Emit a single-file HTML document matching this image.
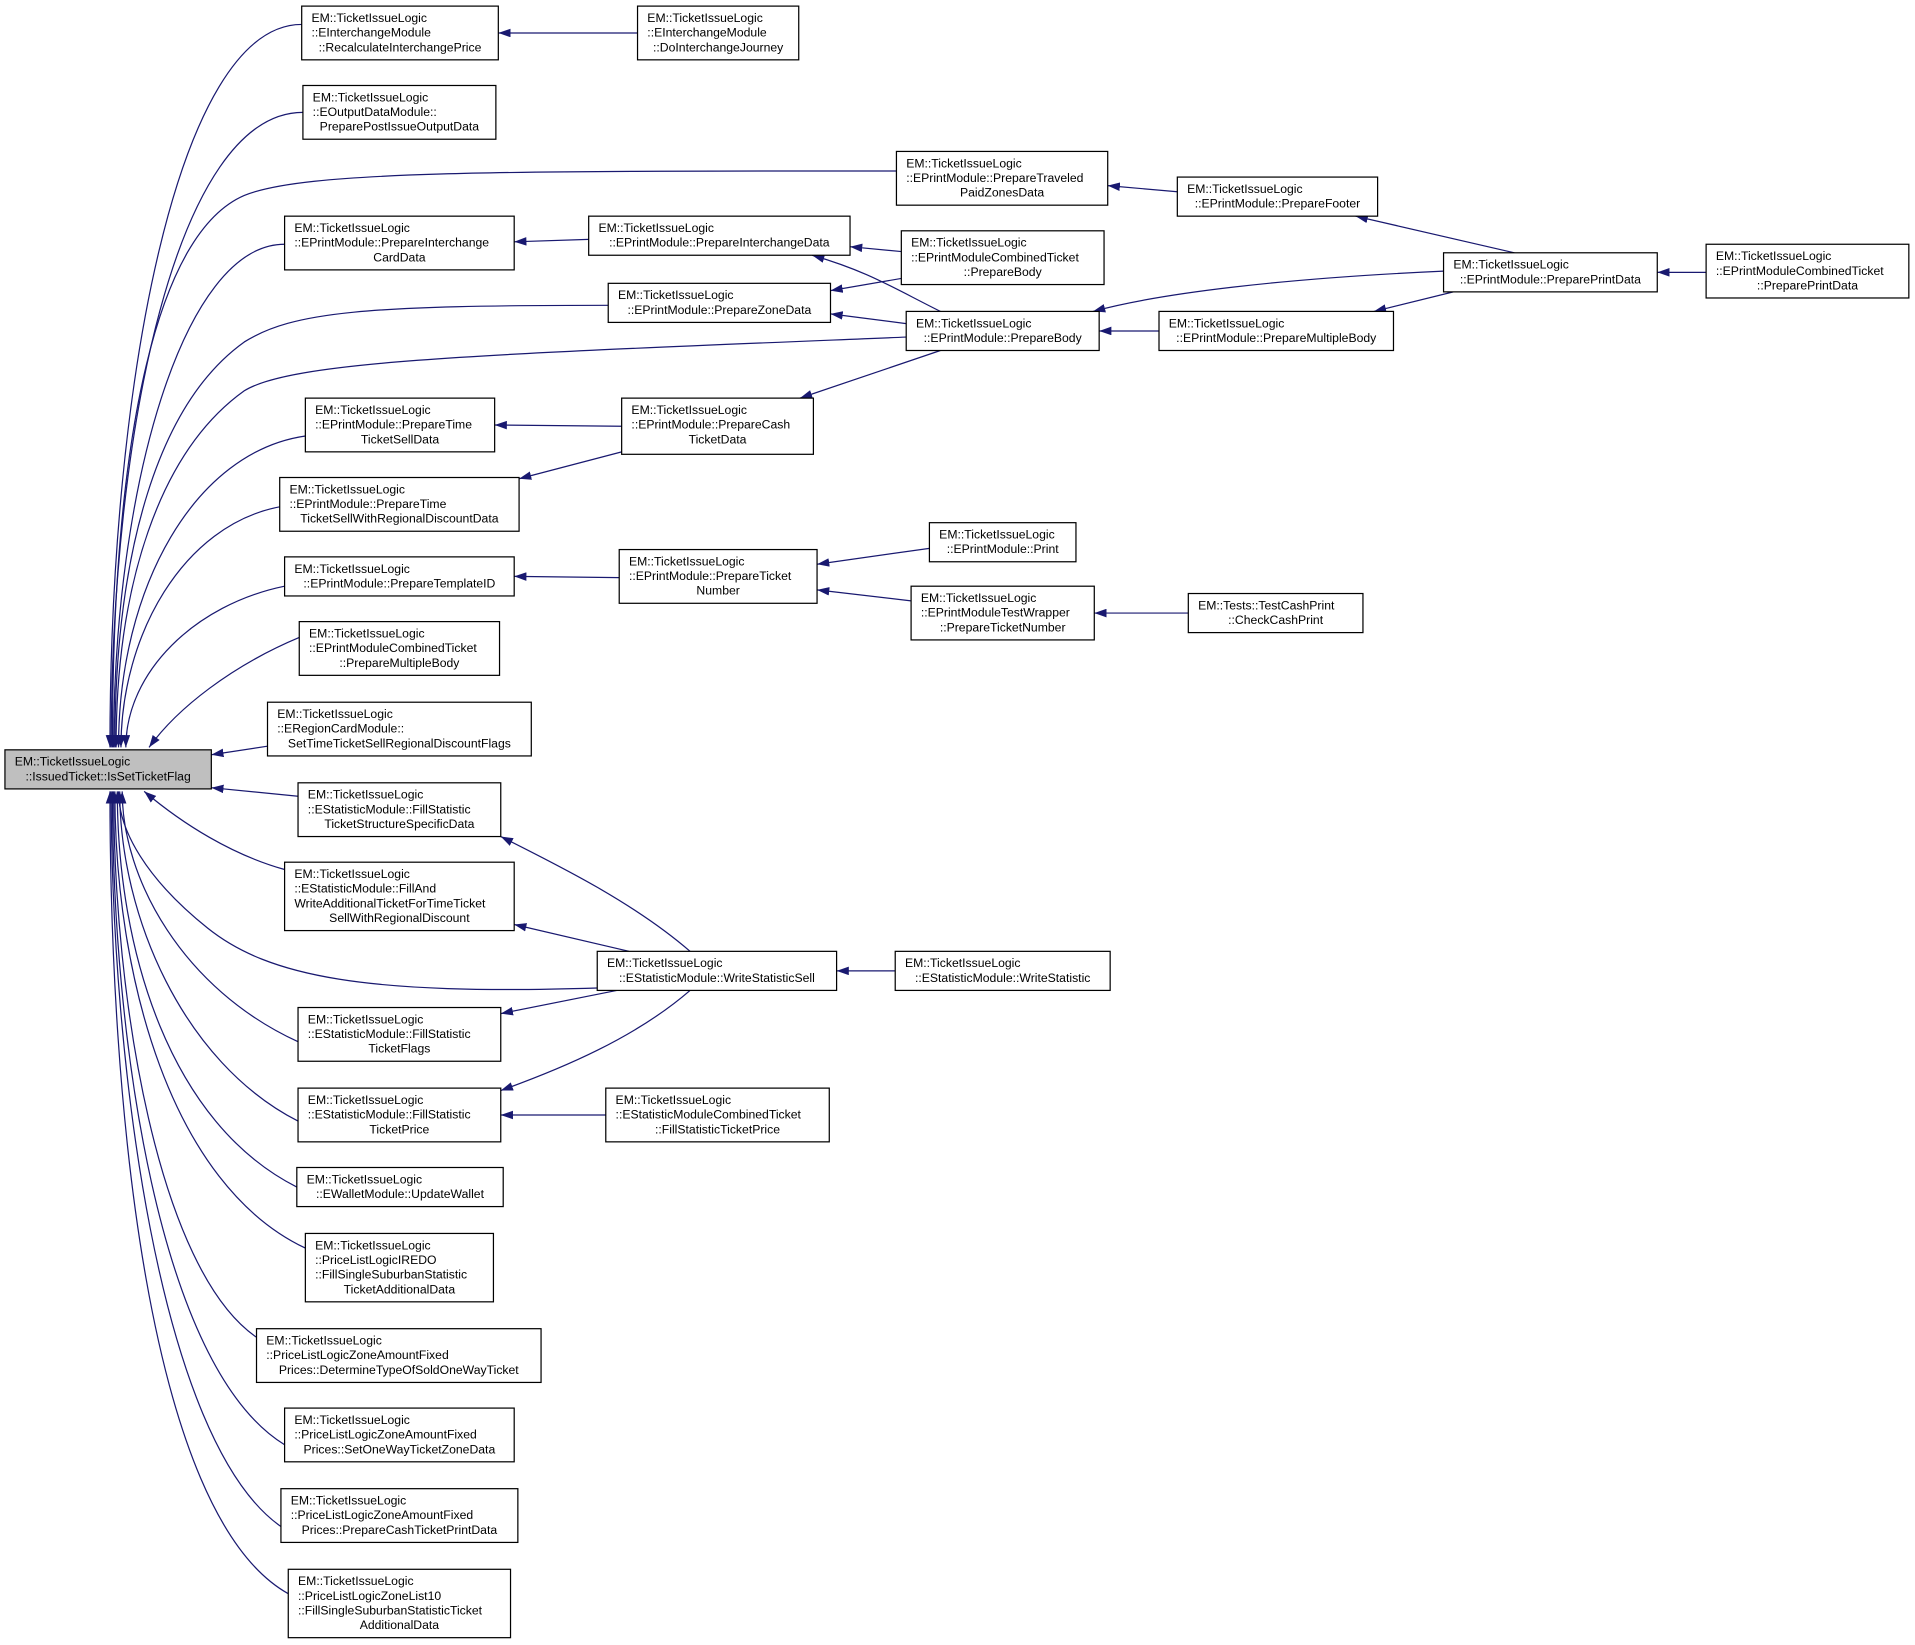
<!DOCTYPE html>
<html><head><meta charset="utf-8"><style>
html,body{margin:0;padding:0;background:#fff;}
svg{display:block;}
text{font-family:"Liberation Sans",sans-serif;font-size:10px;fill:#000;}
.b{fill:#fff;stroke:#000;stroke-width:1;}
.e{fill:none;stroke:#191970;stroke-width:1;marker-end:url(#ah);}
.c{text-anchor:middle;}
</style></head><body>
<svg width="1915" height="1645" viewBox="0 0 1568 1347" xmlns="http://www.w3.org/2000/svg">
<defs><marker id="ah" viewBox="0 0 10 7" refX="10" refY="3.5" markerUnits="userSpaceOnUse" markerWidth="10" markerHeight="7" orient="auto"><path d="M0,0 L10,3.5 L0,7 z" fill="#191970"/></marker></defs>

<!-- edges to main -->
<path class="e" d="M247,20 C145,20 90,316 90,612"/>
<path class="e" d="M248,92 C145,92 91,352 91,612"/>
<path class="e" d="M734,140 C400,140 250,140 200,160 C130,190 92,350 92,612"/>
<path class="e" d="M233,200 C150,200 93,400 93,612"/>
<path class="e" d="M498,250 C300,250 240,255 200,280 C130,330 94,450 94,612"/>
<path class="e" d="M742,276 C400,290 240,295 200,320 C130,370 95,480 95,612"/>
<path class="e" d="M250,357 C160,370 97,480 97,612"/>
<path class="e" d="M229,415 C150,430 99,520 99,612"/>
<path class="e" d="M233,480 C160,495 103,550 103,612"/>
<path class="e" d="M245,522 C190,545 145,580 122,612"/>
<path class="e" d="M219,611 L173,618"/>
<path class="e" d="M244,652 L173,645"/>
<path class="e" d="M233,712 C190,700 150,675 118,648"/>
<path class="e" d="M489,809 C300,815 220,800 170,760 C120,720 97,680 97,648"/>
<path class="e" d="M244,853 C150,810 100,720 100,648"/>
<path class="e" d="M244,918 C150,870 98,750 98,648"/>
<path class="e" d="M243,972 C140,920 96,780 96,648"/>
<path class="e" d="M250,1022 C140,970 94,800 94,648"/>
<path class="e" d="M210,1095 C130,1040 93,820 93,648"/>
<path class="e" d="M233,1183 C130,1120 92,850 92,648"/>
<path class="e" d="M230,1250 C130,1180 91,870 91,648"/>
<path class="e" d="M236,1305 C120,1240 90,900 90,648"/>

<!-- other edges -->
<path class="e" d="M522,27 L408,27"/>
<path class="e" d="M964,157 L907,152"/>
<path class="e" d="M1240,207 L1110,177"/>
<path class="e" d="M1182,222 C1050,228 950,240 895,255"/>
<path class="e" d="M1190,239 L1125,255"/>
<path class="e" d="M1397,223 L1357,223"/>
<path class="e" d="M949,271 L900,271"/>
<path class="e" d="M742,265 L680,257"/>
<path class="e" d="M770,255 C730,235 710,222 665,209"/>
<path class="e" d="M738,206 L696,202"/>
<path class="e" d="M738,228 L680,238"/>
<path class="e" d="M482,196 L421,198"/>
<path class="e" d="M770,287 L655,326"/>
<path class="e" d="M509,349 L405,348"/>
<path class="e" d="M509,370 L425,392"/>
<path class="e" d="M507,473 L421,472"/>
<path class="e" d="M761,449 L669,462"/>
<path class="e" d="M746,492 L669,483"/>
<path class="e" d="M973,502 L896,502"/>
<path class="e" d="M565,779 C520,740 460,710 410,685"/>
<path class="e" d="M515,779 L421,757"/>
<path class="e" d="M505,811 L410,830"/>
<path class="e" d="M565,811 C520,850 460,875 410,893"/>
<path class="e" d="M733,795 L685,795"/>
<path class="e" d="M496,913 L410,913"/>

<!-- main -->
<rect x="4" y="614" width="169" height="32" fill="#bfbfbf" stroke="#000"/>
<text x="12" y="627">EM::TicketIssueLogic</text>
<text x="88.5" y="639" class="c">::IssuedTicket::IsSetTicketFlag</text>

<!-- column 1 -->
<rect class="b" x="247" y="5" width="161" height="44"/>
<text x="255" y="18">EM::TicketIssueLogic</text><text x="255" y="30">::EInterchangeModule</text><text x="327.5" y="42" class="c">::RecalculateInterchangePrice</text>

<rect class="b" x="248" y="70" width="158" height="44"/>
<text x="256" y="83">EM::TicketIssueLogic</text><text x="256" y="95">::EOutputDataModule::</text><text x="327" y="107" class="c">PreparePostIssueOutputData</text>

<rect class="b" x="233" y="177" width="188" height="44"/>
<text x="241" y="190">EM::TicketIssueLogic</text><text x="241" y="202">::EPrintModule::PrepareInterchange</text><text x="327" y="214" class="c">CardData</text>

<rect class="b" x="250" y="326" width="155" height="44"/>
<text x="258" y="339">EM::TicketIssueLogic</text><text x="258" y="351">::EPrintModule::PrepareTime</text><text x="327.5" y="363" class="c">TicketSellData</text>

<rect class="b" x="229" y="391" width="196" height="44"/>
<text x="237" y="404">EM::TicketIssueLogic</text><text x="237" y="416">::EPrintModule::PrepareTime</text><text x="327" y="428" class="c">TicketSellWithRegionalDiscountData</text>

<rect class="b" x="233" y="456" width="188" height="32"/>
<text x="241" y="469">EM::TicketIssueLogic</text><text x="327" y="481" class="c">::EPrintModule::PrepareTemplateID</text>

<rect class="b" x="245" y="509" width="164" height="44"/>
<text x="253" y="522">EM::TicketIssueLogic</text><text x="253" y="534">::EPrintModuleCombinedTicket</text><text x="327" y="546" class="c">::PrepareMultipleBody</text>

<rect class="b" x="219" y="575" width="216" height="44"/>
<text x="227" y="588">EM::TicketIssueLogic</text><text x="227" y="600">::ERegionCardModule::</text><text x="327" y="612" class="c">SetTimeTicketSellRegionalDiscountFlags</text>

<rect class="b" x="244" y="641" width="166" height="44"/>
<text x="252" y="654">EM::TicketIssueLogic</text><text x="252" y="666">::EStatisticModule::FillStatistic</text><text x="327" y="678" class="c">TicketStructureSpecificData</text>

<rect class="b" x="233" y="706" width="188" height="56"/>
<text x="241" y="719">EM::TicketIssueLogic</text><text x="241" y="731">::EStatisticModule::FillAnd</text><text x="241" y="743">WriteAdditionalTicketForTimeTicket</text><text x="327" y="755" class="c">SellWithRegionalDiscount</text>

<rect class="b" x="244" y="825" width="166" height="44"/>
<text x="252" y="838">EM::TicketIssueLogic</text><text x="252" y="850">::EStatisticModule::FillStatistic</text><text x="327" y="862" class="c">TicketFlags</text>

<rect class="b" x="244" y="891" width="166" height="44"/>
<text x="252" y="904">EM::TicketIssueLogic</text><text x="252" y="916">::EStatisticModule::FillStatistic</text><text x="327" y="928" class="c">TicketPrice</text>

<rect class="b" x="243" y="956" width="169" height="32"/>
<text x="251" y="969">EM::TicketIssueLogic</text><text x="327.5" y="981" class="c">::EWalletModule::UpdateWallet</text>

<rect class="b" x="250" y="1010" width="154" height="56"/>
<text x="258" y="1023">EM::TicketIssueLogic</text><text x="258" y="1035">::PriceListLogicIREDO</text><text x="258" y="1047">::FillSingleSuburbanStatistic</text><text x="327" y="1059" class="c">TicketAdditionalData</text>

<rect class="b" x="210" y="1088" width="233" height="44"/>
<text x="218" y="1101">EM::TicketIssueLogic</text><text x="218" y="1113">::PriceListLogicZoneAmountFixed</text><text x="326.5" y="1125" class="c">Prices::DetermineTypeOfSoldOneWayTicket</text>

<rect class="b" x="233" y="1153" width="188" height="44"/>
<text x="241" y="1166">EM::TicketIssueLogic</text><text x="241" y="1178">::PriceListLogicZoneAmountFixed</text><text x="327" y="1190" class="c">Prices::SetOneWayTicketZoneData</text>

<rect class="b" x="230" y="1219" width="194" height="44"/>
<text x="238" y="1232">EM::TicketIssueLogic</text><text x="238" y="1244">::PriceListLogicZoneAmountFixed</text><text x="327" y="1256" class="c">Prices::PrepareCashTicketPrintData</text>

<rect class="b" x="236" y="1285" width="182" height="56"/>
<text x="244" y="1298">EM::TicketIssueLogic</text><text x="244" y="1310">::PriceListLogicZoneList10</text><text x="244" y="1322">::FillSingleSuburbanStatisticTicket</text><text x="327" y="1334" class="c">AdditionalData</text>

<!-- column 2+ -->
<rect class="b" x="522" y="5" width="132" height="44"/>
<text x="530" y="18">EM::TicketIssueLogic</text><text x="530" y="30">::EInterchangeModule</text><text x="588" y="42" class="c">::DoInterchangeJourney</text>

<rect class="b" x="734" y="124" width="173" height="44"/>
<text x="742" y="137">EM::TicketIssueLogic</text><text x="742" y="149">::EPrintModule::PrepareTraveled</text><text x="820.5" y="161" class="c">PaidZonesData</text>

<rect class="b" x="482" y="177" width="214" height="32"/>
<text x="490" y="190">EM::TicketIssueLogic</text><text x="589" y="202" class="c">::EPrintModule::PrepareInterchangeData</text>

<rect class="b" x="498" y="232" width="182" height="32"/>
<text x="506" y="245">EM::TicketIssueLogic</text><text x="589" y="257" class="c">::EPrintModule::PrepareZoneData</text>

<rect class="b" x="738" y="189" width="166" height="44"/>
<text x="746" y="202">EM::TicketIssueLogic</text><text x="746" y="214">::EPrintModuleCombinedTicket</text><text x="821" y="226" class="c">::PrepareBody</text>

<rect class="b" x="742" y="255" width="158" height="32"/>
<text x="750" y="268">EM::TicketIssueLogic</text><text x="821" y="280" class="c">::EPrintModule::PrepareBody</text>

<rect class="b" x="509" y="326" width="157" height="46"/>
<text x="517" y="339">EM::TicketIssueLogic</text><text x="517" y="351">::EPrintModule::PrepareCash</text><text x="587.5" y="363" class="c">TicketData</text>

<rect class="b" x="507" y="450" width="162" height="44"/>
<text x="515" y="463">EM::TicketIssueLogic</text><text x="515" y="475">::EPrintModule::PrepareTicket</text><text x="588" y="487" class="c">Number</text>

<rect class="b" x="761" y="428" width="120" height="32"/>
<text x="769" y="441">EM::TicketIssueLogic</text><text x="821" y="453" class="c">::EPrintModule::Print</text>

<rect class="b" x="746" y="480" width="150" height="44"/>
<text x="754" y="493">EM::TicketIssueLogic</text><text x="754" y="505">::EPrintModuleTestWrapper</text><text x="821" y="517" class="c">::PrepareTicketNumber</text>

<rect class="b" x="973" y="486" width="143" height="32"/>
<text x="981" y="499">EM::Tests::TestCashPrint</text><text x="1044.5" y="511" class="c">::CheckCashPrint</text>

<rect class="b" x="489" y="779" width="196" height="32"/>
<text x="497" y="792">EM::TicketIssueLogic</text><text x="587" y="804" class="c">::EStatisticModule::WriteStatisticSell</text>

<rect class="b" x="733" y="779" width="176" height="32"/>
<text x="741" y="792">EM::TicketIssueLogic</text><text x="821" y="804" class="c">::EStatisticModule::WriteStatistic</text>

<rect class="b" x="496" y="891" width="183" height="44"/>
<text x="504" y="904">EM::TicketIssueLogic</text><text x="504" y="916">::EStatisticModuleCombinedTicket</text><text x="587.5" y="928" class="c">::FillStatisticTicketPrice</text>

<rect class="b" x="964" y="145" width="164" height="32"/>
<text x="972" y="158">EM::TicketIssueLogic</text><text x="1046" y="170" class="c">::EPrintModule::PrepareFooter</text>

<rect class="b" x="949" y="255" width="192" height="32"/>
<text x="957" y="268">EM::TicketIssueLogic</text><text x="1045" y="280" class="c">::EPrintModule::PrepareMultipleBody</text>

<rect class="b" x="1182" y="207" width="175" height="32"/>
<text x="1190" y="220">EM::TicketIssueLogic</text><text x="1269.5" y="232" class="c">::EPrintModule::PreparePrintData</text>

<rect class="b" x="1397" y="200" width="166" height="44"/>
<text x="1405" y="213">EM::TicketIssueLogic</text><text x="1405" y="225">::EPrintModuleCombinedTicket</text><text x="1480" y="237" class="c">::PreparePrintData</text>
</svg>
</body></html>
